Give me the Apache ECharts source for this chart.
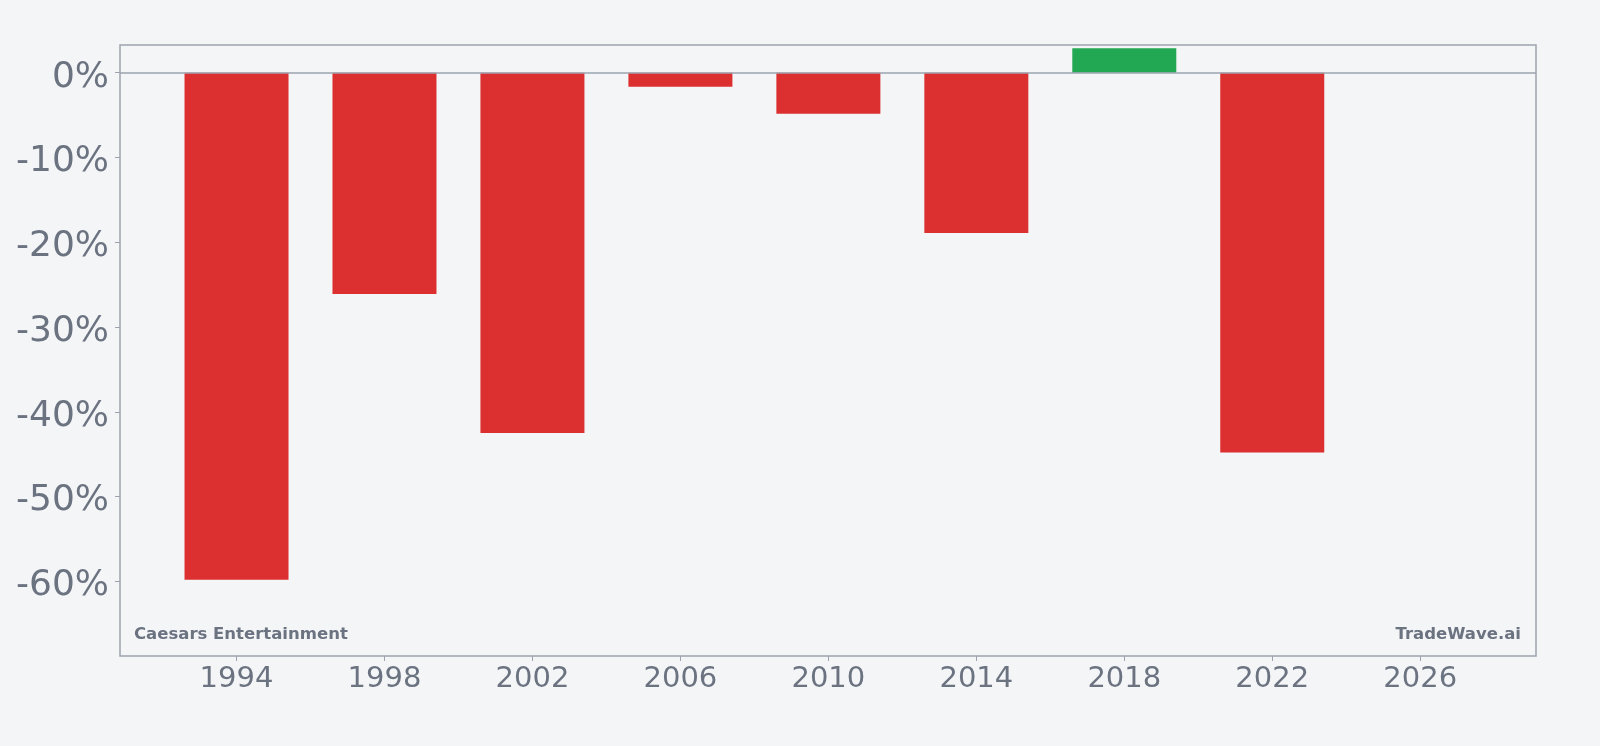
<!DOCTYPE html>
<html>
<head>
<meta charset="utf-8">
<script src="https://cdn.jsdelivr.net/npm/echarts@6/dist/echarts.min.js"></script>
<style>
  html, body { margin: 0; padding: 0; background: #f4f5f7; }
  #chart { width: 1600px; height: 746px; }
</style>
</head>
<body>
<div id="chart"></div>
<script>
// годовая доходность, %
const years   = [1994, 1998, 2002, 2006, 2010, 2014, 2018, 2022];
const returns = [-59.8, -26.1, -42.5, -1.65, -4.85, -18.9, 2.9, -44.8];
const xTicks  = [1994, 1998, 2002, 2006, 2010, 2014, 2018, 2022, 2026];
const yTicks  = [0, -10, -20, -30, -40, -50, -60];

const RED   = '#dc3030';
const GREEN = '#22a852';
const TEXT  = '#6b7280';
const FRAME = '#9ca3af';
const FONT  = 'DejaVu Sans';

const chart = echarts.init(document.getElementById('chart'), null, { renderer: 'canvas' });

const option = {
  backgroundColor: '#f4f5f7',
  animation: false,
  grid: {
    left: 120, right: 64, top: 45, bottom: 90,
    show: true,
    borderColor: FRAME,
    borderWidth: 1.5,
    backgroundColor: 'transparent'
  },
  xAxis: {
    type: 'value',
    min: 1990.85,
    max: 2029.13,
    axisLine: { show: false, onZero: false },
    splitLine: { show: false },
    axisTick: {
      show: true,
      inside: false,
      customValues: xTicks,
      length: 5,
      lineStyle: { color: FRAME, width: 1 }
    },
    axisLabel: {
      customValues: xTicks,
      margin: 9,
      color: TEXT,
      fontFamily: FONT,
      fontSize: 29,
      formatter: v => String(v)
    }
  },
  yAxis: {
    type: 'value',
    min: -68.8,
    max: 3.27,
    axisLine: { show: false, onZero: false },
    splitLine: { show: false },
    axisTick: {
      show: true,
      inside: false,
      customValues: yTicks,
      length: 5,
      lineStyle: { color: FRAME, width: 1 }
    },
    axisLabel: {
      customValues: yTicks,
      margin: 11,
      color: TEXT,
      fontFamily: FONT,
      fontSize: 36,
      formatter: v => '{t|' + v + '%}',
      rich: {
        t: {
          color: TEXT,
          fontFamily: FONT,
          fontSize: 36,
          padding: [9, 0, 0, 0]
        }
      }
    }
  },
  series: [{
    type: 'bar',
    barWidth: 104,
    data: years.map((y, i) => ({
      value: [y, returns[i]],
      itemStyle: { color: returns[i] >= 0 ? GREEN : RED }
    })),
    markLine: {
      silent: true,
      symbol: 'none',
      label: { show: false },
      lineStyle: { color: FRAME, width: 1.5, type: 'solid' },
      data: [{ yAxis: 0 }]
    }
  }],
  graphic: [
    {
      type: 'text',
      left: 134,
      top: 626,
      style: {
        text: 'Caesars Entertainment',
        fill: TEXT,
        font: 'bold 16.5px "DejaVu Sans"'
      }
    },
    {
      type: 'text',
      right: 79,
      top: 626,
      style: {
        text: 'TradeWave.ai',
        fill: TEXT,
        font: 'bold 16.5px "DejaVu Sans"'
      }
    }
  ]
};

chart.setOption(option);
</script>
</body>
</html>
